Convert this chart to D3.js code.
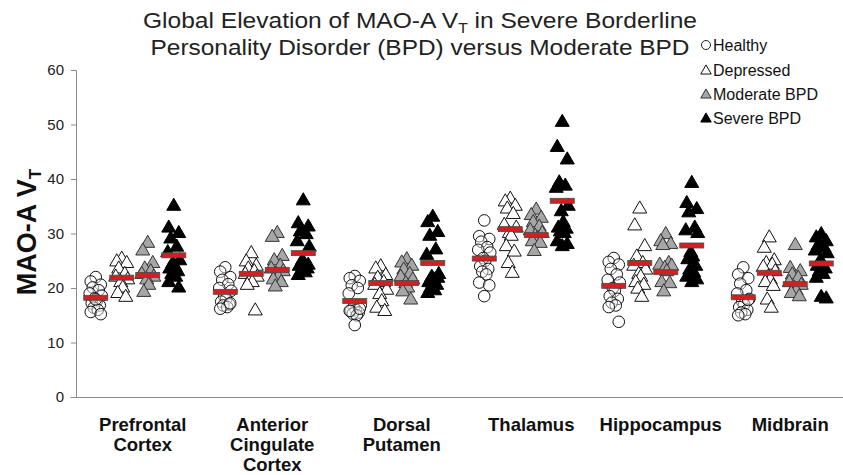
<!DOCTYPE html>
<html lang="en">
<head>
    <meta charset="utf-8">
    <script src="https://d3js.org/d3.v7.min.js"></script>
    <style>
        body { margin: 0; background: #fff; }
        text { font-family: "Liberation Sans", Arial, sans-serif; }
    </style>
</head>
<body>
<script>
    var regions = ["Prefrontal Cortex", "Anterior Cingulate Cortex", "Dorsal Putamen",
                   "Thalamus", "Hippocampus", "Midbrain"];
    var regionLines = [["Prefrontal", "Cortex"], ["Anterior", "Cingulate", "Cortex"],
                       ["Dorsal", "Putamen"], ["Thalamus"], ["Hippocampus"], ["Midbrain"]];
    var groups = ["Healthy", "Depressed", "Moderate BPD", "Severe BPD"];
    var yTicks = [0, 10, 20, 30, 40, 50, 60];

    // individual V_T values, one list per region
    var healthyVT = [
        [22, 21.2, 20.6, 20.1, 19.6, 19, 18.6, 18.1, 17.6, 17.2, 16.8, 16.4, 16, 15.6, 15.2, 17.9],
        [23.8, 23, 22, 21.5, 20.7, 20, 19.5, 18.5, 18, 17.5, 17, 16.8, 16.5, 16.2, 17.2],
        [22.2, 21.8, 21.3, 20.5, 20, 19, 16.8, 16.5, 16, 15.8, 15.5, 15.3, 15, 15.8, 16.2, 13.2],
        [32.4, 29.5, 29, 28.5, 27.5, 27, 26.5, 25.5, 25, 24, 23.5, 23, 22.5, 21, 20.5, 18.5],
        [25.5, 24.8, 24.3, 23.5, 22.5, 21.5, 21, 20, 19.5, 18.5, 18, 17.3, 16.8, 16.5, 13.8],
        [23.8, 22.5, 21.8, 20.8, 19.6, 19, 18, 17.5, 17, 16.5, 16, 15.5, 15.2, 15, 17.8]
    ];
    var depressedVT = [
        [25.3, 24.8, 24.5, 23.5, 22.5, 22, 21.5, 21, 20, 19, 18.3],
        [26.3, 24.8, 24, 23.5, 23, 22.5, 22, 21.5, 21, 20.5, 15.8],
        [23.9, 23.5, 22.3, 21.8, 21, 20.5, 19.6, 18.8, 17.5, 16.3, 15.7],
        [36.3, 35.8, 35, 34.5, 33.5, 31.5, 31, 30, 29.5, 27.6, 26.6, 24.5, 22.7],
        [34.5, 31.4, 27.6, 25.7, 24.5, 24, 23.3, 22.5, 22, 21, 20.5, 19.8, 18.3],
        [29.2, 27.3, 25, 24.5, 24.2, 23.8, 23, 22, 21.5, 21, 20.3, 17.8, 16.3]
    ];
    var moderateVT = [
        [28.2, 26.8, 24.5, 23.5, 23, 22.5, 22, 21.5, 20.5, 19.2],
        [30, 29.3, 25.8, 25, 24, 23.5, 23, 22.5, 22, 21.5, 21, 20.2],
        [25.2, 24.6, 24, 23.3, 22.5, 22, 21.5, 20.8, 20, 19.3, 17.8],
        [34.3, 33.3, 32.8, 32, 31.2, 30.5, 30, 29.5, 29, 28.5, 28.2, 26.7],
        [29.8, 28.5, 28, 27.8, 24.5, 24.2, 24, 23.6, 23, 21, 20.8, 19.3],
        [27.8, 23.6, 23, 22.4, 21.8, 21, 20.5, 20, 19.5, 19, 18.4]
    ];
    var severeVT = [
        [35, 31, 30, 29, 27.5, 26.5, 25, 24.5, 24, 23.5, 23, 22.5, 22, 21, 20],
        [36, 31.8, 31.2, 30.3, 29.8, 28.5, 27.5, 25, 24.5, 24, 23.5, 23.2, 22.8, 22.3, 24.2, 23.8],
        [33, 32, 30.2, 29.5, 27, 26, 22.5, 22, 21.5, 21, 20.5, 20, 19.5, 19, 21.8, 20.8],
        [50.4, 45.8, 43.5, 39.3, 38.7, 38.3, 35, 34, 32, 31, 30.8, 30.3, 30, 28.5, 28, 27.6],
        [39.2, 35.5, 34.4, 33.8, 31, 30.5, 30, 26.5, 25.7, 25.2, 24, 23.3, 22.8, 22, 21.5, 21],
        [29.8, 29.2, 28.5, 27.8, 27.3, 26.8, 26.3, 25, 24.5, 24, 23.5, 23, 22.5, 21.8, 18, 18.3]
    ];

    // group means (red bars)
    var healthyMean = [18.2, 19.3, 17.6, 25.4, 20.4, 18.3];
    var depressedMean = [21.9, 22.6, 20.9, 30.8, 24.6, 22.8];
    var moderateMean = [22.4, 23.3, 20.9, 29.7, 22.9, 20.7];
    var severeMean = [26.0, 26.4, 24.6, 36.0, 27.8, 24.5];

    var width = 843, height = 475;
    var plotLeft = 76, plotTop = 70, plotBottom = 397;

    var seriesVT = [healthyVT, depressedVT, moderateVT, severeVT];
    var seriesMean = [healthyMean, depressedMean, moderateMean, severeMean];
    var fills = ["#fff", "#fff", "#a6a6a6", "#000"];
    var strokes = ["#111", "#111", "#333", "#000"];
    var jitter = [0, -5, 5, -3, 3, -6, 6, -1, 1, -4, 4, -2, 2, -5, 5, 0];

    var svg = d3.select("body")
                .append("svg")
                .attr("width", width)
                .attr("height", height);

    var x = d3.scaleBand()
              .domain(regions)
              .range([70, 847]);

    var xSub = d3.scalePoint()
                 .domain(groups)
                 .range([-39, 39]);

    var y = d3.scaleLinear()
              .domain([0, 60])
              .range([plotBottom, plotTop]);

    // axes
    var yAxis = svg.append("g")
                   .attr("transform", "translate(" + plotLeft + ",0)")
                   .call(d3.axisLeft(y).tickValues(yTicks).tickSize(5).tickPadding(7));
    yAxis.selectAll("path, line").attr("stroke", "#8c8c8c");
    yAxis.selectAll("text").attr("font-size", 15).attr("fill", "#222")
         .style("font-family", "'Liberation Sans', Arial, sans-serif");

    var xAxis = svg.append("g")
                   .attr("transform", "translate(0," + plotBottom + ")")
                   .call(d3.axisBottom(x).tickSize(0).tickFormat(""));
    xAxis.select("path").attr("stroke", "#8c8c8c");

    // category labels
    regions.forEach(function (r, i) {
        var lx = x(r) + x.bandwidth() / 2 + 8;
        var t = svg.append("text")
                   .attr("x", lx)
                   .attr("y", 431)
                   .attr("text-anchor", "middle")
                   .attr("font-size", 18.5)
                   .attr("font-weight", "bold")
                   .attr("fill", "#111");
        regionLines[i].forEach(function (line, j) {
            t.append("tspan")
             .attr("x", lx)
             .attr("dy", j === 0 ? 0 : 20)
             .text(line);
        });
    });

    var tri = d3.symbol().type(d3.symbolTriangle).size(85);

    // points
    groups.forEach(function (g, gi) {
        regions.forEach(function (r, ri) {
            var cx = x(r) + x.bandwidth() / 2 + xSub(g);
            var pts = svg.append("g");
            seriesVT[gi][ri].forEach(function (v, k) {
                var px = cx + jitter[k % jitter.length];
                if (gi === 0) {
                    pts.append("circle")
                       .attr("cx", px)
                       .attr("cy", y(v))
                       .attr("r", 5.8)
                       .attr("fill", fills[gi])
                       .attr("fill-opacity", 0.4)
                       .attr("stroke", strokes[gi])
                       .attr("stroke-width", 1);
                } else {
                    pts.append("path")
                       .attr("d", tri)
                       .attr("transform", "translate(" + px + "," + y(v) + ")")
                       .attr("fill", fills[gi])
                       .attr("stroke", strokes[gi])
                       .attr("stroke-width", 1);
                }
            });
        });
    });

    // mean bars
    groups.forEach(function (g, gi) {
        svg.append("g")
           .selectAll("rect")
           .data(seriesMean[gi])
           .enter()
           .append("rect")
           .attr("x", function (d, i) { return x(regions[i]) + x.bandwidth() / 2 + xSub(g) - 12; })
           .attr("y", function (d) { return y(d) - 2.5; })
           .attr("width", 24)
           .attr("height", 5)
           .attr("fill", "#d31f1f")
           .attr("stroke", "#4a4a4a")
           .attr("stroke-width", 0.8);
    });

    // title
    var title = svg.append("text")
                   .attr("x", 420)
                   .attr("y", 28)
                   .attr("text-anchor", "middle")
                   .attr("font-size", 22)
                   .attr("textLength", 554)
                   .attr("lengthAdjust", "spacingAndGlyphs")
                   .attr("fill", "#222");
    title.append("tspan").text("Global Elevation of MAO-A V");
    title.append("tspan").attr("font-size", 14).attr("dy", 5).text("T");
    title.append("tspan").attr("dy", -5).text(" in Severe Borderline");
    svg.append("text")
       .attr("x", 420)
       .attr("y", 55)
       .attr("text-anchor", "middle")
       .attr("font-size", 22)
       .attr("textLength", 539)
       .attr("lengthAdjust", "spacingAndGlyphs")
       .attr("fill", "#222")
       .text("Personality Disorder (BPD) versus Moderate BPD");

    // y label
    var ylab = svg.append("text")
                  .attr("transform", "translate(36,232) rotate(-90)")
                  .attr("text-anchor", "middle")
                  .attr("font-size", 27)
                  .attr("font-weight", "bold")
                  .attr("fill", "#111");
    ylab.append("tspan").text("MAO-A  V");
    ylab.append("tspan").attr("font-size", 17).attr("dy", 5).text("T");

    // legend
    var legend = svg.append("g").attr("transform", "translate(706,0)");
    var legendY = [45, 70, 94, 118];
    groups.forEach(function (g, gi) {
        if (gi === 0) {
            legend.append("circle")
                  .attr("cx", 0).attr("cy", legendY[gi]).attr("r", 4.5)
                  .attr("fill", "#fff").attr("stroke", "#222");
        } else {
            legend.append("path")
                  .attr("d", d3.symbol().type(d3.symbolTriangle).size(48))
                  .attr("transform", "translate(0," + (legendY[gi] + 1) + ")")
                  .attr("fill", fills[gi]).attr("stroke", strokes[gi]);
        }
        legend.append("text")
              .attr("x", 7)
              .attr("y", legendY[gi])
              .attr("dy", "0.36em")
              .attr("font-size", 16)
              .attr("fill", "#111")
              .text(g);
    });
</script>
</body>
</html>
